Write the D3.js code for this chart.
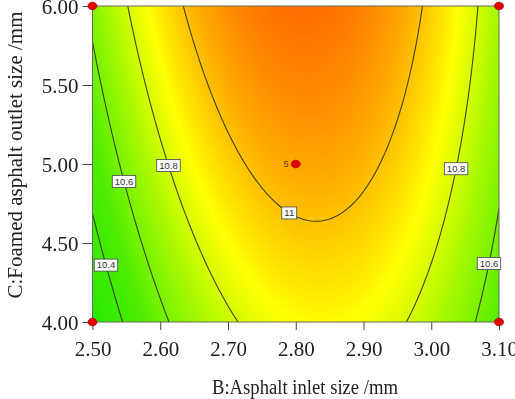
<!DOCTYPE html>
<html>
<head>
<meta charset="utf-8">
<script src="https://cdn.jsdelivr.net/npm/d3@7"></script>
<style>
  html,body{margin:0;padding:0;background:#fff;}
  #wrap{position:relative;width:515px;height:399px;}
  canvas,svg{position:absolute;left:0;top:0;}
</style>
</head>
<body>
<div id="wrap"><canvas id="cv" width="515" height="399"></canvas><svg id="sv" width="515" height="399"></svg></div>
<script>
// ---- data ----
const xTicks = [2.50, 2.60, 2.70, 2.80, 2.90, 3.00, 3.10];
const yTicks = [4.00, 4.50, 5.00, 5.50, 6.00];
const xDomain = [2.50, 3.10];
const yDomain = [4.00, 6.00];
// quadratic response surface in coded units: [b0, bB, bC, bBB, bCC, bBC]
const coef = [11.052, 0.0833, 0.148, -0.505, -0.0258, -0.048];
const levels = [10.4, 10.6, 10.8, 11.0];
// contour label anchors: level, C value, root side
const labelLevels = [10.4, 10.6, 10.8, 11.0, 10.8, 10.6];
const labelC      = [4.36, 4.89, 4.99, 4.69, 4.97, 4.37];
const labelSide   = [-1, -1, -1, -1, 1, 1];
const labelText   = ["10.4", "10.6", "10.8", "11", "10.8", "10.6"];
// design points (B, C) and replicate counts
const ptB = [2.50, 3.10, 2.50, 3.10, 2.80];
const ptC = [6.00, 6.00, 4.00, 4.00, 5.00];
const ptN = [1, 1, 1, 1, 5];
const colorStops = [10.24, 10.5, 10.7, 10.88, 11.05, 11.18];
const colorRange = ["#22ea00", "#50ec00", "#a0f800", "#ffff00", "#ffa800", "#ff6a00"];

// ---- layout ----
const L = 92.5, R = 499, T = 6, B = 322;
const x = d3.scaleLinear().domain(xDomain).range([L, R]);
const y = d3.scaleLinear().domain(yDomain).range([B, T]);
const codeB = d3.scaleLinear().domain(xDomain).range([-1, 1]);
const codeC = d3.scaleLinear().domain(yDomain).range([-1, 1]);
const color = d3.scaleLinear().domain(colorStops).range(colorRange).clamp(true);

function f(cb, cc) {
  const [b0, b1, b2, b11, b22, b12] = coef;
  return b0 + b1*cb + b2*cc + b11*cb*cb + b22*cc*cc + b12*cb*cc;
}

// ---- raster fill ----
const ctx = document.getElementById("cv").getContext("2d");
const x0 = Math.round(L), x1 = Math.round(R), y0 = Math.round(T), y1 = Math.round(B);
const img = ctx.createImageData(x1 - x0, y1 - y0);
for (let j = 0; j < y1 - y0; j++) {
  const cc = codeC(y.invert(y0 + j + 0.5));
  for (let i = 0; i < x1 - x0; i++) {
    const cb = codeB(x.invert(x0 + i + 0.5));
    const c = d3.rgb(color(f(cb, cc)));
    const k = 4*(j*(x1 - x0) + i);
    img.data[k] = c.r; img.data[k+1] = c.g; img.data[k+2] = c.b; img.data[k+3] = 255;
  }
}
ctx.putImageData(img, x0, y0);

const svg = d3.select("#sv");
svg.append("defs").append("clipPath").attr("id", "clip")
  .append("rect").attr("x", L).attr("y", T).attr("width", R - L).attr("height", B - T);

// ---- contours ----
const n = 161;
const gx = d3.range(n).map(i => xDomain[0] + (xDomain[1]-xDomain[0]) * i/(n-1));
const gy = d3.range(n).map(j => yDomain[0] + (yDomain[1]-yDomain[0]) * j/(n-1));
const values = new Array(n*n);
for (let j = 0; j < n; j++) for (let i = 0; i < n; i++) values[j*n + i] = f(codeB(gx[i]), codeC(gy[j]));
const contours = d3.contours().size([n, n]).thresholds(levels)(values);
const dxv = (xDomain[1]-xDomain[0])/(n-1), dyv = (yDomain[1]-yDomain[0])/(n-1);
const proj = d3.geoTransform({
  point: function(px, py) {
    this.stream.point(x(xDomain[0] + (px - 0.5)*dxv), y(yDomain[0] + (py - 0.5)*dyv));
  }
});
const path = d3.geoPath(proj);
svg.append("g").attr("clip-path", "url(#clip)")
  .selectAll("path").data(contours).join("path")
  .attr("d", path).attr("fill", "none")
  .attr("stroke", "#333308").attr("stroke-width", 1.1).attr("stroke-opacity", 0.9);

// ---- frame ----
svg.append("rect").attr("x", L).attr("y", T).attr("width", R - L).attr("height", B - T)
  .attr("fill", "none").attr("stroke", "#6a6a5a").attr("stroke-width", 1);

// ---- axes ----
const fmt = d3.format(".2f");
const gxAx = svg.append("g").attr("transform", `translate(0,${B})`)
  .call(d3.axisBottom(x).tickValues(xTicks).tickFormat(fmt).tickSize(8).tickPadding(6));
const gyAx = svg.append("g").attr("transform", `translate(${L},0)`)
  .call(d3.axisLeft(y).tickValues(yTicks).tickFormat(fmt).tickSize(10).tickPadding(4));
[gxAx, gyAx].forEach(g => {
  g.select(".domain").remove();
  g.selectAll("line").attr("stroke", "#444");
  g.selectAll("text").attr("font-family", "Liberation Serif, Times New Roman, serif")
    .attr("font-size", 21).attr("fill", "#222");
});
gxAx.selectAll("text").attr("dy", null).attr("y", 34);
gyAx.selectAll("text").attr("dy", "0.35em");

// ---- axis titles ----
svg.append("text").attr("x", 305).attr("y", 394).attr("text-anchor", "middle")
  .attr("font-family", "Liberation Serif, Times New Roman, serif").attr("font-size", 20)
  .attr("textLength", 186).attr("lengthAdjust", "spacingAndGlyphs")
  .attr("fill", "#222").text("B:Asphalt inlet size /mm");
svg.append("text").attr("transform", "translate(22,155) rotate(-90)").attr("text-anchor", "middle")
  .attr("font-family", "Liberation Serif, Times New Roman, serif").attr("font-size", 21)
  .attr("fill", "#222").text("C:Foamed asphalt outlet size /mm");

// ---- contour labels ----
function solveB(level, cVal, side) {
  const [b0, b1, b2, b11, b22, b12] = coef;
  const cc = codeC(cVal);
  const a = b11, bq = b1 + b12*cc, c0 = b0 + b2*cc + b22*cc*cc - level;
  const disc = Math.sqrt(Math.max(0, bq*bq - 4*a*c0));
  const r1 = (-bq + disc)/(2*a), r2 = (-bq - disc)/(2*a);
  const cb = side < 0 ? Math.min(r1, r2) : Math.max(r1, r2);
  return codeB.invert(cb);
}
const lab = svg.append("g");
labelLevels.forEach((lv, k) => {
  const px = x(solveB(lv, labelC[k], labelSide[k]));
  const py = y(labelC[k]);
  const g = lab.append("g").attr("transform", `translate(${px},${py})`);
  const t = g.append("text").attr("text-anchor", "middle").attr("dy", "0.35em")
    .attr("font-family", "Liberation Sans, Arial, sans-serif").attr("font-size", 9.5)
    .attr("fill", "#333").text(labelText[k]);
  const w = t.node().getComputedTextLength() + 5;
  g.insert("rect", "text").attr("x", -w/2).attr("y", -6).attr("width", w).attr("height", 12)
    .attr("fill", "#fff").attr("stroke", "#444").attr("stroke-width", 0.8);
});

// ---- design points ----
svg.append("g").selectAll("ellipse").data(ptB).join("ellipse")
  .attr("cx", (d) => x(d)).attr("cy", (d, i) => y(ptC[i]))
  .attr("rx", 4.5).attr("ry", 3.8).attr("fill", "#e00000").attr("stroke", "#b00000").attr("stroke-width", 0.8);
svg.append("g").selectAll("text").data(ptB.filter((d, i) => ptN[i] > 1)).join("text")
  .attr("x", (d) => x(d) - 7).attr("y", y(ptC[4])).attr("dy", "0.35em").attr("text-anchor", "end")
  .attr("font-family", "Liberation Sans, Arial, sans-serif").attr("font-size", 9).attr("fill", "#553300")
  .text(ptN[4]);
</script>
</body>
</html>
